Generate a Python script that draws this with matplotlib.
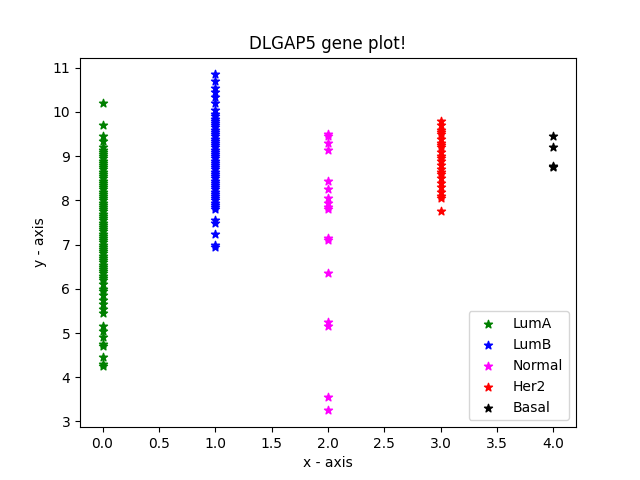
import matplotlib
matplotlib.use("Agg")
import matplotlib.pyplot as plt

luma = [10.2, 9.7, 9.45, 9.35, 9.2, 9.15, 9.1, 9.05, 9.0, 8.95, 8.9, 8.85, 8.8, 8.75, 8.7,
        8.65, 8.6, 8.55, 8.5, 8.45, 8.4, 8.35, 8.3, 8.25, 8.2, 8.15, 8.1, 8.05, 8.0, 7.95,
        7.9, 7.85, 7.8, 7.75, 7.7, 7.65, 7.6, 7.55, 7.5, 7.45, 7.4, 7.35, 7.3, 7.25, 7.2,
        7.15, 7.1, 7.05, 7.0, 6.95, 6.9, 6.85, 6.8, 6.75, 6.7, 6.65, 6.6, 6.55, 6.5, 6.45,
        6.4, 6.35, 6.3, 6.25, 6.2, 6.1, 6.0, 5.95, 5.85, 5.75, 5.65, 5.55, 5.45, 5.15,
        5.05, 4.9, 4.75, 4.7, 4.45, 4.3, 4.25]
lumb = [10.85, 10.7, 10.55, 10.45, 10.35, 10.2, 10.05, 9.95, 9.9, 9.85, 9.8, 9.75, 9.7,
        9.65, 9.6, 9.55, 9.5, 9.45, 9.4, 9.35, 9.3, 9.25, 9.2, 9.15, 9.1, 9.05, 9.0,
        8.95, 8.9, 8.85, 8.8, 8.75, 8.7, 8.65, 8.6, 8.55, 8.5, 8.45, 8.4, 8.35, 8.3,
        8.25, 8.2, 8.15, 8.1, 8.05, 8.0, 7.95, 7.9, 7.85, 7.8, 7.55, 7.5, 7.25, 7.0, 6.95]
normal = [9.5, 9.45, 9.3, 9.15, 8.45, 8.25, 8.05, 7.95, 7.85, 7.8, 7.15, 7.1, 6.35,
          5.25, 5.15, 3.55, 3.25]
her2 = [9.8, 9.7, 9.6, 9.55, 9.5, 9.4, 9.3, 9.25, 9.2, 9.1, 9.0, 8.95, 8.9, 8.8, 8.7,
        8.65, 8.6, 8.5, 8.4, 8.3, 8.2, 8.1, 8.05, 7.75]
basal = [9.45, 9.2, 8.78, 8.75]

groups = [("LumA", luma, "green"), ("LumB", lumb, "blue"), ("Normal", normal, "magenta"),
          ("Her2", her2, "red"), ("Basal", basal, "black")]

fig, ax = plt.subplots(figsize=(6.4, 4.8), dpi=100)
for i, (name, vals, col) in enumerate(groups):
    ax.scatter([i] * len(vals), vals, marker="*", color=col, label=name)
ax.set_title("DLGAP5 gene plot!")
ax.set_xlabel("x - axis")
ax.set_ylabel("y - axis")
ax.legend(loc="lower right")
fig.savefig("out.png")
